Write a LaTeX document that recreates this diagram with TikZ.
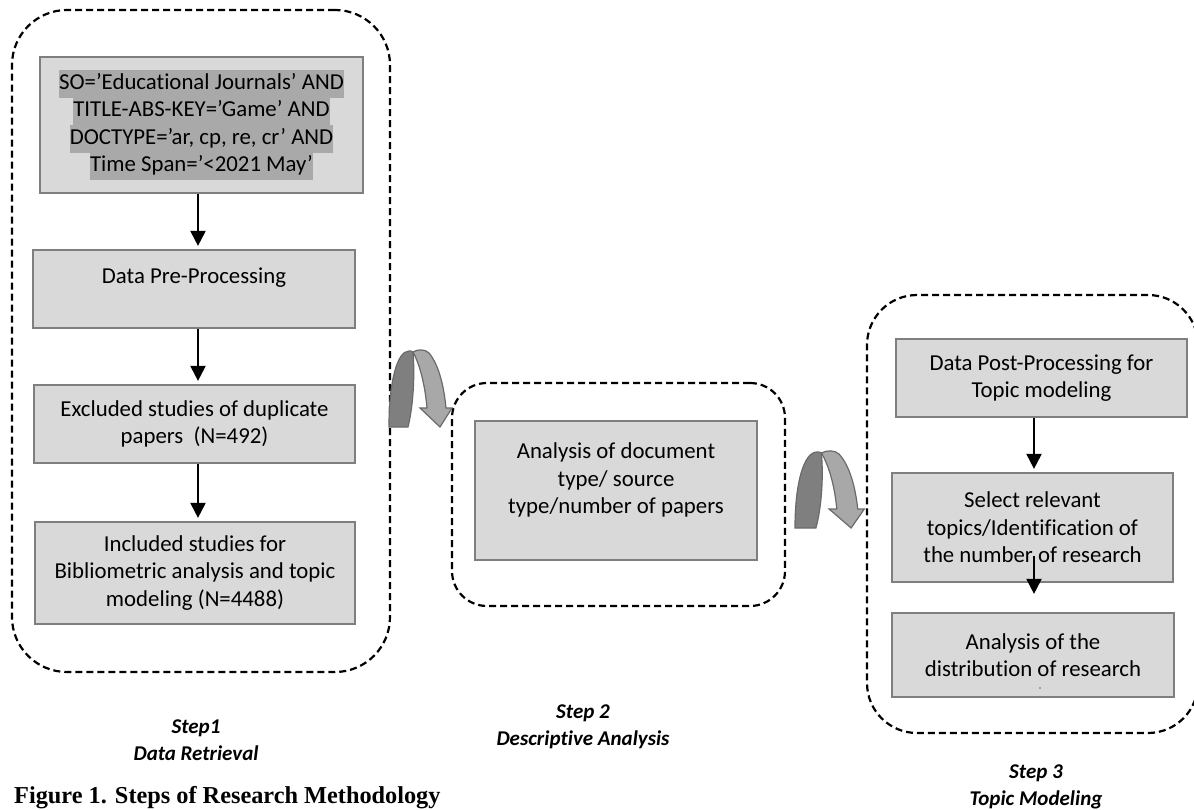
\documentclass[tikz,border=0pt]{standalone}
\usepackage{fontspec}
\setmainfont{Carlito}[Ligatures=NoCommon]
\newfontfamily\capfont{Liberation Serif}
\usetikzlibrary{arrows.meta,calc}
\definecolor{boxfill}{HTML}{D9D9D9}
\definecolor{boxline}{HTML}{7F7F7F}
\definecolor{hlgray}{HTML}{A9A9A9}
\definecolor{arrdark}{HTML}{7F7F7F}
\definecolor{arrlight}{HTML}{A8A8A8}
\definecolor{arredge}{HTML}{6A6A6A}
\newcommand\hlline[1]{{\setlength{\fboxsep}{0pt}\colorbox{hlgray}{\strut#1}}}
\begin{document}
\begin{tikzpicture}[x=1pt,y=-1pt,
  stepbox/.style={draw=boxline, fill=boxfill, line width=2.2pt, align=center, inner sep=0pt,
    font=\fontsize{22.8}{27.5}\selectfont},
  groupbox/.style={draw=black, line width=2.2pt, dash pattern=on 7pt off 4pt, inner sep=0pt},
  flow/.style={-{Triangle[length=15pt,width=15pt]}, line width=2pt, shorten >=3pt},
  steplabel/.style={align=center, inner sep=0pt, font=\fontsize{21}{27}\selectfont\bfseries\itshape},
  uturn/.pic={
    \path[fill=arrlight, draw=arredge, line width=1.2pt]
      (24,-75) .. controls (29,-78) and (36,-78) .. (40,-74)
      .. controls (50,-62) and (55,-40) .. (57,-19) -- (63,-19) -- (51,0) -- (31,-19) -- (38,-19)
      .. controls (36,-42) and (31,-62) .. (24,-75) -- cycle;
    \path[fill=arrdark, draw=arredge, line width=1.2pt]
      (0,0) .. controls (0,-45) and (8,-76) .. (20,-76)
      .. controls (22,-76) and (23,-76) .. (24,-75)
      .. controls (26,-50) and (24,-20) .. (19,0) -- cycle;
  }]
\useasboundingbox (0,0) rectangle (1194,809);
\clip (0,0) rectangle (1194,809);

% group frames
\node[groupbox, rounded corners=55pt, minimum width=378pt, minimum height=662pt] (g1) at (201,341) {};
\node[groupbox, rounded corners=35pt, minimum width=333pt, minimum height=223pt] (g2) at (618.5,494.5) {};
\node[groupbox, rounded corners=50pt, minimum width=331pt, minimum height=438pt] (g3) at (1032.5,514) {};

% step 1
\node[stepbox, minimum width=323pt, minimum height=136pt] (q) at (201.5,125)
  {\hlline{SO=’Educational Journals’ AND}\\\hlline{TITLE-ABS-KEY=’Game’ AND}\\\hlline{DOCTYPE=’ar, cp, re, cr’ AND}\\\hlline{Time Span=’<2021 May’}};
\node[stepbox, minimum width=322pt, minimum height=78pt] (pre) at (194,289)
  {Data Pre-Processing\\[-10pt]\strut};
\node[stepbox, minimum width=321pt, minimum height=78pt] (ex) at (194.5,424)
  {Excluded studies of duplicate\\papers\ \ (N=492)};
\node[stepbox, minimum width=320pt, minimum height=102pt] (inc) at (195,573)
  {Included studies for\\Bibliometric analysis and topic\\modeling (N=4488)};

% step 2
\node[stepbox, minimum width=282pt, minimum height=139pt] (an) at (616,490.5)
  {Analysis of document\\type/ source\\type/number of papers\\[-11pt]\strut};

% step 3
\node[stepbox, minimum width=291pt, minimum height=78pt] (post) at (1041.5,378)
  {Data Post-Processing for\\Topic modeling};
\node[stepbox, minimum width=281pt, minimum height=109pt] (sel) at (1032.5,527.5)
  {Select relevant\\topics/Identification of\\the number of research};
\node[stepbox, minimum width=282pt, minimum height=84pt] (dist) at (1033,655)
  {Analysis of the\\distribution of research};
\fill[black!60] (1040,688) circle[radius=0.9pt];

% connectors
\coordinate (c1) at (198,0);
\coordinate (c3) at (1034,0);
\draw[flow] (q.south -| c1) -- (pre.north -| c1);
\draw[flow] (pre.south -| c1) -- (ex.north -| c1);
\draw[flow] (ex.south -| c1) -- (inc.north -| c1);
\draw[flow] (post.south -| c3) -- (sel.north -| c3);
\coordinate (selin) at ($(sel.south -| c3)+(0,-27)$);
\coordinate (distin) at ($(dist.north -| c3)+(0,-18)$);
\draw[flow, shorten >=0pt] (selin) -- (distin);

% curved transition arrows
\pic at (389,427) {uturn};
\pic[xscale=1.1] at (795,528) {uturn};

% labels
\node[steplabel] (s1) at (196,740) {Step1\\Data Retrieval};
\node[steplabel] (s2) at (583,727) {Step 2\\Descriptive Analysis};
\node[steplabel] (s3) at (1036,787) {Step 3\\Topic Modeling};
\node[anchor=base west, inner sep=0pt, font=\capfont\bfseries\fontsize{24.3}{29}\selectfont] (cap) at (14,803)
  {Figure 1. Steps of Research Methodology};
\end{tikzpicture}
\end{document}
